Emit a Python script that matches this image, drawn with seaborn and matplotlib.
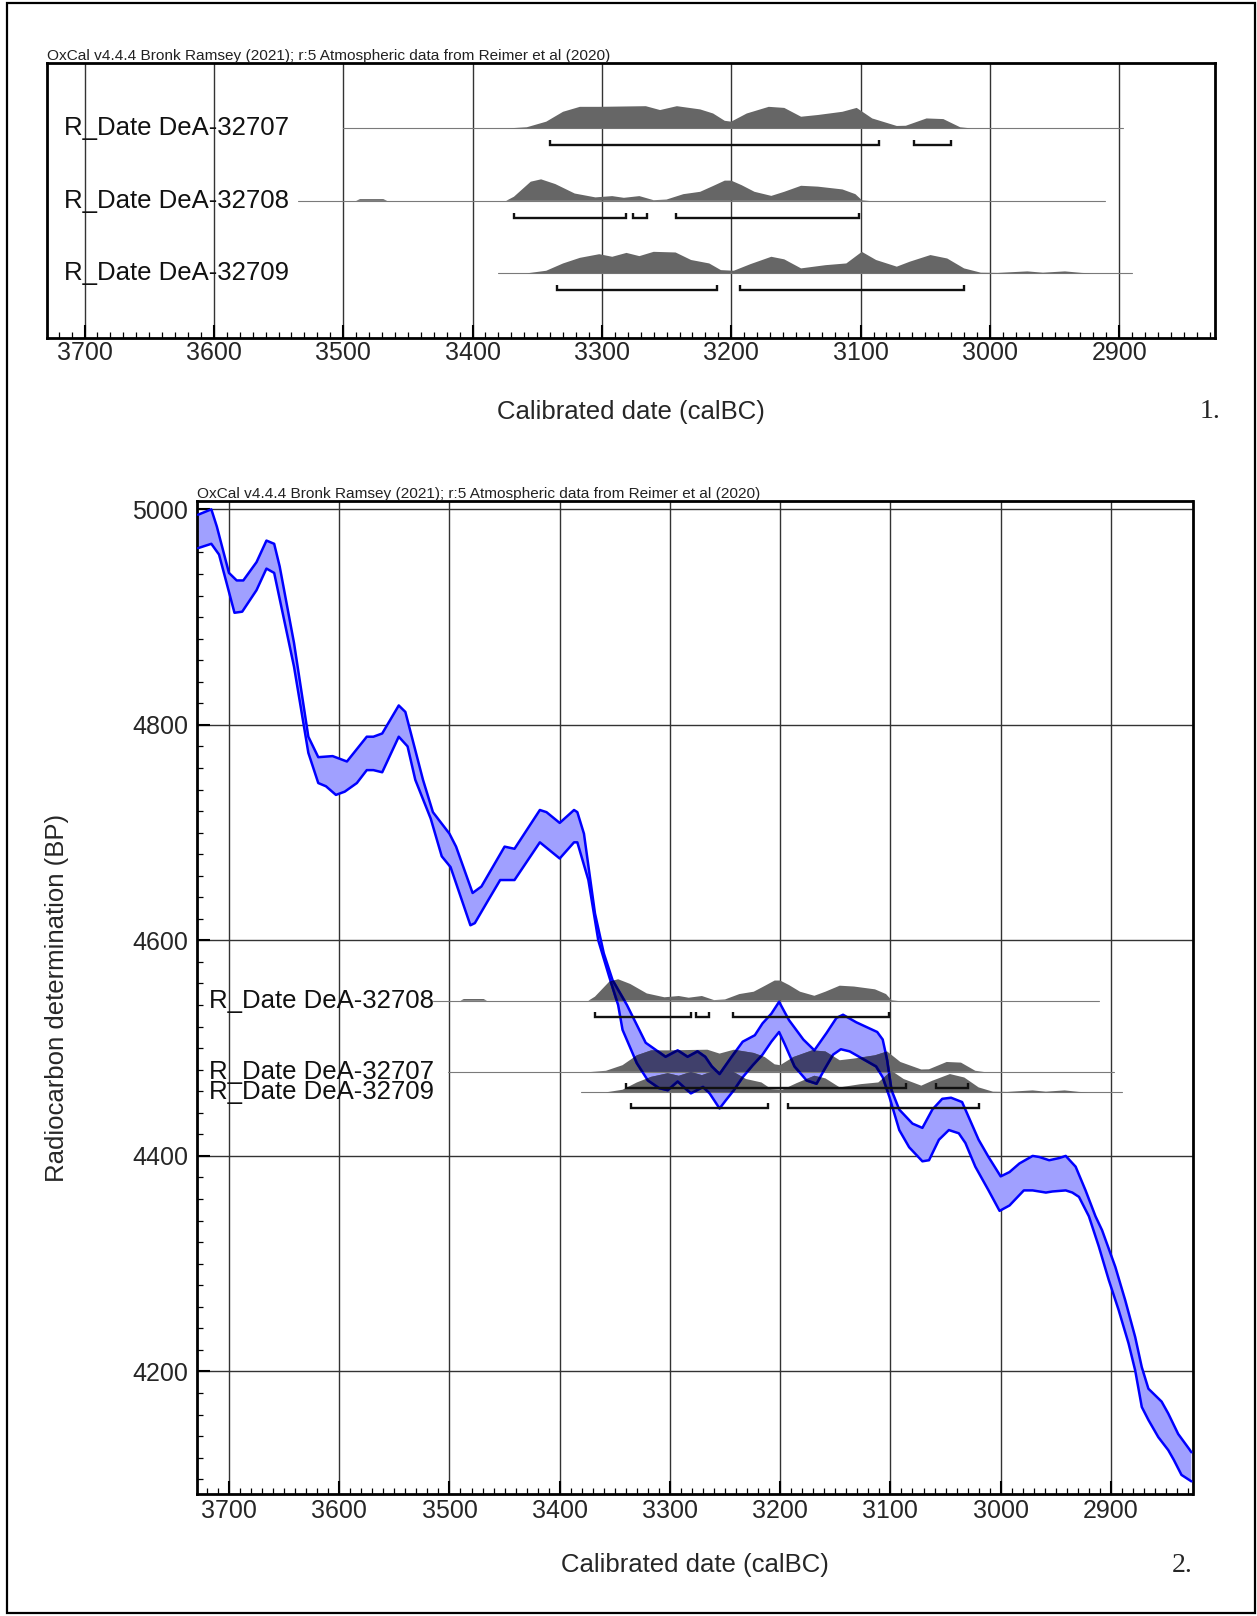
import matplotlib
matplotlib.use("Agg")
import matplotlib.pyplot as plt
from matplotlib.ticker import MultipleLocator
from matplotlib.patches import Rectangle
import seaborn as sns

sns.set_theme(style="white")
plt.rcParams["font.family"] = ["Liberation Sans", "DejaVu Sans"]

TITLE = "OxCal v4.4.4 Bronk Ramsey (2021); r:5 Atmospheric data from Reimer et al (2020)"
XLABEL = "Calibrated date (calBC)"
YLABEL = "Radiocarbon determination (BP)"

sample_names = ["DeA-32707", "DeA-32708", "DeA-32709"]
sample_bp = [4478, 4544, 4459]

# calibrated probability distributions (relative height)
d07_year = [3372, 3358, 3343, 3330, 3317, 3302, 3266, 3255, 3242, 3224, 3214, 3205, 3200, 3188,
            3171, 3159, 3146, 3133, 3114, 3103, 3091, 3072, 3065, 3049, 3036, 3023, 3015]
d07_dens = [0.0, 0.05, 0.31, 0.77, 1.0, 1.0, 1.03, 0.85, 1.03, 0.88, 0.69, 0.35, 0.31, 0.69,
            1.0, 0.95, 0.54, 0.62, 0.77, 0.95, 0.46, 0.11, 0.12, 0.46, 0.43, 0.05, 0.0]

d08_year = [3490, 3487, 3469, 3466, 3374, 3368, 3355, 3347, 3336, 3321, 3305, 3292, 3283, 3271,
            3260, 3250, 3237, 3224, 3214, 3205, 3200, 3192, 3182, 3169, 3159, 3146, 3133, 3114,
            3104, 3099, 3093]
d08_dens = [0.0, 0.08, 0.08, 0.0, 0.0, 0.19, 0.89, 1.0, 0.78, 0.34, 0.16, 0.22, 0.14, 0.22,
            0.03, 0.06, 0.31, 0.42, 0.69, 0.94, 0.94, 0.73, 0.42, 0.23, 0.42, 0.70, 0.66, 0.53,
            0.31, 0.03, 0.0]

d09_year = [3358, 3343, 3330, 3317, 3302, 3292, 3281, 3271, 3260, 3243, 3231, 3217, 3208, 3198,
            3185, 3169, 3159, 3146, 3127, 3111, 3099, 3088, 3072, 3062, 3046, 3033, 3020, 3007,
            2994, 2971, 2959, 2942, 2929, 2921]
d09_dens = [0.0, 0.12, 0.46, 0.72, 0.89, 0.77, 0.95, 0.80, 1.0, 0.97, 0.62, 0.46, 0.15, 0.12,
            0.43, 0.77, 0.65, 0.23, 0.38, 0.46, 1.0, 0.62, 0.31, 0.54, 0.85, 0.69, 0.23, 0.03,
            0.02, 0.09, 0.03, 0.09, 0.02, 0.0]

# 95.4% ranges (brackets)
r07 = [(3340, 3086), (3059, 3030)]
r08 = [(3368, 3281), (3276, 3265), (3243, 3101)]
r09 = [(3335, 3211), (3193, 3020)]

# extent of the thin baseline of each distribution
line_start_top = [3500, 3535, 3380]
line_start_bottom = [3501, 3515, 3381]
line_end = [2897, 2911, 2890]

# IntCal20 band, upper and lower edge
curve_hi_year = [3728, 3716, 3711, 3700, 3693, 3687, 3675, 3666, 3659, 3654, 3641, 3628, 3619, 3606,
                 3593, 3575, 3569, 3561, 3546, 3540, 3524, 3515, 3500, 3494, 3479, 3471, 3450, 3441,
                 3418, 3412, 3400, 3387, 3384, 3378, 3368, 3360, 3352, 3339, 3322, 3304, 3293, 3284,
                 3275, 3268, 3262, 3255, 3244, 3234, 3223, 3216, 3208, 3201, 3192, 3179, 3169, 3158,
                 3149, 3143, 3131, 3112, 3107, 3103, 3099, 3092, 3080, 3071, 3062, 3053, 3045, 3035,
                 3029, 3020, 3011, 3000, 2992, 2983, 2971, 2965, 2956, 2947, 2941, 2932, 2923, 2914,
                 2908, 2896, 2887, 2878, 2872, 2866, 2854, 2848, 2839, 2829, 2827]
curve_hi_bp = [4995, 5000, 4984, 4941, 4934, 4934, 4951, 4971, 4968, 4947, 4876, 4789, 4770, 4771,
               4766, 4789, 4789, 4792, 4818, 4812, 4749, 4719, 4699, 4687, 4644, 4650, 4687, 4685,
               4721, 4719, 4709, 4721, 4719, 4699, 4625, 4588, 4563, 4540, 4505, 4492, 4498, 4492,
               4497, 4492, 4483, 4476, 4492, 4506, 4512, 4523, 4532, 4543, 4526, 4508, 4498, 4514,
               4528, 4531, 4524, 4515, 4508, 4489, 4461, 4443, 4430, 4426, 4443, 4453, 4454, 4450,
               4436, 4415, 4399, 4381, 4385, 4393, 4400, 4399, 4396, 4398, 4400, 4390, 4368, 4344,
               4331, 4297, 4266, 4232, 4204, 4184, 4172, 4161, 4142, 4128, 4125]
curve_lo_year = [3728, 3716, 3709, 3695, 3688, 3675, 3666, 3659, 3641, 3628, 3619, 3612, 3603, 3595,
                 3584, 3575, 3569, 3561, 3546, 3538, 3531, 3517, 3507, 3499, 3481, 3477, 3465, 3454,
                 3441, 3418, 3400, 3387, 3384, 3374, 3365, 3355, 3347, 3343, 3330, 3320, 3310, 3302,
                 3293, 3281, 3270, 3264, 3255, 3249, 3242, 3234, 3225, 3216, 3208, 3201, 3196, 3187,
                 3176, 3167, 3160, 3152, 3145, 3137, 3125, 3113, 3107, 3101, 3092, 3083, 3071, 3065,
                 3056, 3047, 3038, 3032, 3023, 3011, 3001, 2992, 2979, 2971, 2959, 2953, 2941, 2935,
                 2929, 2920, 2911, 2902, 2893, 2884, 2878, 2872, 2866, 2857, 2848, 2843, 2836, 2827]
curve_lo_bp = [4964, 4968, 4958, 4904, 4905, 4925, 4945, 4941, 4854, 4774, 4746, 4743, 4735, 4738,
               4746, 4758, 4758, 4756, 4789, 4780, 4749, 4713, 4678, 4668, 4614, 4616, 4637, 4656,
               4656, 4691, 4676, 4691, 4691, 4656, 4600, 4566, 4540, 4517, 4486, 4470, 4463, 4461,
               4469, 4458, 4464, 4458, 4444, 4452, 4461, 4473, 4484, 4494, 4506, 4515, 4504, 4483,
               4470, 4467, 4480, 4494, 4499, 4497, 4490, 4483, 4473, 4455, 4424, 4408, 4395, 4396,
               4415, 4424, 4421, 4412, 4390, 4368, 4349, 4354, 4368, 4368, 4366, 4367, 4368, 4366,
               4362, 4344, 4316, 4285, 4257, 4226, 4201, 4167, 4155, 4139, 4127, 4118, 4104, 4098]

dist_years = [d07_year, d08_year, d09_year]
dist_dens = [d07_dens, d08_dens, d09_dens]
dist_ranges = [r07, r08, r09]

GREY = "#666666"
NAVY = "#40406b"
BAND = "#a0a0ff"
W, H = 1257, 1616

fig = plt.figure(figsize=(W / 100, H / 100), dpi=100)
fig.patch.set_facecolor("white")
ax1 = fig.add_axes([47 / W, 1 - 338 / H, 1168 / W, 274.7 / H])
ax2 = fig.add_axes([197 / W, 1 - 1494.3 / H, 995.5 / W, 993.6 / H])


def style_axes(ax, pad):
    for s in ax.spines.values():
        s.set_color("black")
        s.set_linewidth(2.0)
    ax.set_xlim(3729, 2826)
    ax.xaxis.set_major_locator(MultipleLocator(100))
    ax.xaxis.set_minor_locator(MultipleLocator(10))
    ax.tick_params(axis="x", which="major", direction="in", length=9.5, width=1.5,
                   bottom=True, top=False, labelsize=18, pad=pad, color="black")
    ax.tick_params(axis="x", which="minor", direction="in", length=4.5, width=0.9,
                   bottom=True, top=False, color="black")
    ax.grid(True, axis="x", which="major", color="#333333", lw=1.0)
    ax.set_axisbelow(True)
    ax.text(0, 1, TITLE, transform=ax.transAxes, fontsize=11.1, ha="left", va="bottom",
            color="#222222")


def draw_dist(ax, years, dens, base, h, z=3):
    px = list(years) + list(years[::-1])
    py = [base + h * d for d in dens] + [base] * len(years)
    return ax.fill(px, py, color=GREY, lw=0, zorder=z)[0], px, py


def draw_ranges(ax, ranges, y, tick):
    for a, b in ranges:
        ax.plot([a, a, b, b], [y + tick, y, y, y + tick], color="#111111", lw=1.7,
                solid_joinstyle="miter", solid_capstyle="butt", zorder=6)


# ---------- panel 1 ----------
style_axes(ax1, pad=2.5)
ax1.set_ylim(-0.892, 2.897)
ax1.set_yticks([])
px_unit = 72.5
for i, name in enumerate(sample_names):
    row = 2 - i
    ax1.plot([line_start_top[i], line_end[i]], [row, row], color="#7a7a7a", lw=0.8, zorder=2)
    draw_dist(ax1, dist_years[i], dist_dens[i], row, 21.5 / px_unit)
    draw_ranges(ax1, dist_ranges[i], row - 16.7 / px_unit, 5 / px_unit)
    ax1.text(3716, row, "R_Date " + name, fontsize=18.5, ha="left", va="center",
             color="#111111", zorder=7)

ax1.set_xlabel(XLABEL, fontsize=18.5)
ax1.xaxis.set_label_coords(0.5, -73.7 / 274.7)
ax1.xaxis.label.set_va("center")

# ---------- panel 2 ----------
style_axes(ax2, pad=3.5)
ax2.set_ylim(4086, 5008)
ax2.yaxis.set_major_locator(MultipleLocator(200))
ax2.yaxis.set_minor_locator(MultipleLocator(20))
ax2.tick_params(axis="y", which="major", direction="in", length=9.5, width=1.5,
                left=True, right=False, labelsize=18, pad=6.5, color="black")
ax2.tick_params(axis="y", which="minor", direction="in", length=4.5, width=0.9,
                left=True, right=False, color="black")
ax2.grid(True, axis="y", which="major", color="#333333", lw=1.0)

band = ax2.fill(curve_hi_year + curve_lo_year[::-1], curve_hi_bp + curve_lo_bp[::-1],
                color=BAND, lw=0, zorder=2)[0]

bp_px = 1.0778
dist_patches = []
for i, name in enumerate(sample_names):
    base = sample_bp[i]
    ax2.plot([line_start_bottom[i], line_end[i]], [base, base], color="#7a7a7a", lw=0.8, zorder=2.5)
    patch, px, py = draw_dist(ax2, dist_years[i], dist_dens[i], base, 21.5 / bp_px)
    over = ax2.fill(px, py, color=NAVY, lw=0, zorder=4)[0]
    over.set_clip_path(band)
    dist_patches.append(patch)
    draw_ranges(ax2, dist_ranges[i], base - 16 / bp_px, 5 / bp_px)
    ax2.text(3718, base, "R_Date " + name, fontsize=18.5, ha="left", va="center",
             color="#111111", zorder=7)

for xs, ys in [(curve_hi_year, curve_hi_bp), (curve_lo_year, curve_lo_bp)]:
    sns.lineplot(x=xs, y=ys, sort=False, estimator=None, color="#0000ff", lw=1.8,
                 ax=ax2, zorder=5, solid_joinstyle="round")
    for patch in dist_patches:
        dark = ax2.plot(xs, ys, color="#00006b", lw=1.8, zorder=5.5, solid_joinstyle="round")[0]
        dark.set_clip_path(patch)

ax2.set_xlim(3729, 2826)
ax2.set_xlabel(XLABEL, fontsize=18.5)
ax2.xaxis.set_label_coords(0.5, -70.7 / 993.6)
ax2.xaxis.label.set_va("center")
ax2.set_ylabel(YLABEL, fontsize=18.5)
ax2.yaxis.set_label_coords(-140 / 995.5, 0.5)
ax2.yaxis.label.set_va("center")

# panel numbers and outer frame
fig.text(1210 / W, 1 - 411.7 / H, "1.", fontsize=20, ha="center", va="center",
         family=["Liberation Serif", "DejaVu Serif"])
fig.text(1182.5 / W, 1 - 1565 / H, "2.", fontsize=20, ha="center", va="center",
         family=["Liberation Serif", "DejaVu Serif"])
fig.add_artist(Rectangle((6.5 / W, 3 / H), (1255 - 6.5) / W, (1613 - 3) / H,
                         transform=fig.transFigure, fill=False, ec="black", lw=1.6))

fig.savefig("out.png", dpi=100)
